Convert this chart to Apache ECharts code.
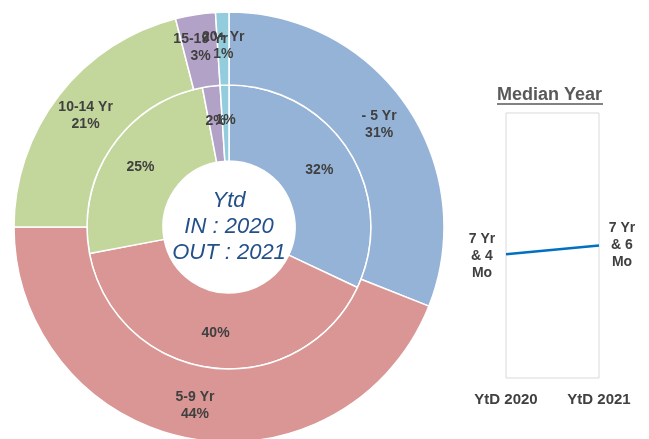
<!DOCTYPE html>
<html>
<head>
<meta charset="utf-8">
<script src="https://cdn.jsdelivr.net/npm/echarts@6/dist/echarts.min.js"></script>
<style>
  html, body { margin: 0; padding: 0; background: #fff; }
  #chart { width: 649px; height: 439px; }
</style>
</head>
<body>
<div id="chart"></div>
<script>
// tenure buckets
const buckets = ['- 5 Yr', '5-9 Yr', '10-14 Yr', '15-19 Yr', '20+ Yr'];
const colors = ['#95B3D7', '#D99694', '#C3D69B', '#B3A2C7', '#93CDDD'];
// inner ring = 2020, outer ring = 2021 (percent)
const share2020 = [32, 40, 25, 2, 1];
const share2021 = [31, 44, 21, 3, 1];

// median tenure in years
const medianCats = ['YtD 2020', 'YtD 2021'];
const medianYears = [7 + 4 / 12, 7 + 6 / 12];
const medianLabels = ['7 Yr\n& 4\nMo', '7 Yr\n& 6\nMo'];

const chart = echarts.init(document.getElementById('chart'));

const labelColor = '#404040';
const font = 'Liberation Sans, Arial, sans-serif';

const toPie = arr => arr.map((v, i) => ({
  name: buckets[i],
  value: v,
  itemStyle: { color: colors[i] }
}));

const options = {
  backgroundColor: '#fff',
  animation: false,
  textStyle: { fontFamily: font },
  graphic: [
    {
      type: 'text',
      left: 497,
      top: 86,
      style: {
        text: 'Median Year',
        font: 'bold 18px Liberation Sans, Arial, sans-serif',
        fill: '#595959'
      }
    },
    {
      type: 'line',
      shape: { x1: 497, y1: 104, x2: 603, y2: 104 },
      style: { stroke: '#595959', lineWidth: 1.5 }
    }
  ],
  grid: {
    left: 506,
    top: 113,
    width: 93,
    height: 265,
    show: true,
    borderColor: '#D9D9D9',
    borderWidth: 1,
    backgroundColor: '#fff'
  },
  xAxis: {
    type: 'category',
    data: medianCats,
    boundaryGap: false,
    axisLine: { show: false },
    axisTick: { show: false },
    axisLabel: {
      color: labelColor,
      fontWeight: 'bold',
      fontSize: 15,
      margin: 14
    }
  },
  yAxis: {
    type: 'value',
    min: 5,
    max: 10,
    show: false,
    splitLine: { show: false }
  },
  series: [
    {
      type: 'pie',
      center: [229, 227],
      radius: [66, 142],
      startAngle: 90,
      clockwise: true,
      silent: true,
      minShowLabelAngle: 0,
      itemStyle: { borderColor: '#fff', borderWidth: 1.5 },
      label: {
        position: 'inside',
        formatter: '{c}%',
        color: labelColor,
        fontWeight: 'bold',
        fontSize: 14
      },
      labelLayout: { hideOverlap: false },
      labelLine: { show: false },
      data: toPie(share2020)
    },
    {
      type: 'pie',
      center: [229, 227],
      radius: [142, 215],
      startAngle: 90,
      clockwise: true,
      silent: true,
      minShowLabelAngle: 0,
      itemStyle: { borderColor: '#fff', borderWidth: 1.5 },
      label: {
        position: 'inside',
        formatter: '{b}\n{c}%',
        color: labelColor,
        fontWeight: 'bold',
        fontSize: 14,
        lineHeight: 17
      },
      labelLayout: { hideOverlap: false },
      labelLine: { show: false },
      data: toPie(share2021)
    },
    {
      type: 'pie',
      center: [229, 227],
      radius: [0, 0],
      silent: true,
      label: {
        show: true,
        position: 'center',
        formatter: 'Ytd\nIN : 2020\nOUT : 2021',
        color: '#24508A',
        fontStyle: 'italic',
        fontSize: 22,
        lineHeight: 26
      },
      data: [{ value: 1, itemStyle: { color: 'transparent' } }]
    },
    {
      type: 'line',
      data: medianYears.map((v, i) => ({
        value: v,
        label: i === 0
          ? { position: 'left', distance: 23, offset: [0, 2] }
          : { position: 'right', distance: 22 }
      })),
      clip: false,
      symbol: 'circle',
      symbolSize: 2,
      showSymbol: true,
      itemStyle: { color: 'transparent' },
      label: {
        show: true,
        align: 'center',
        formatter: p => medianLabels[p.dataIndex],
        color: labelColor,
        fontWeight: 'bold',
        fontSize: 14,
        lineHeight: 17
      },
      lineStyle: { color: '#0070C0', width: 2.5 }
    }
  ]
};

chart.setOption(options);
</script>
</body>
</html>
